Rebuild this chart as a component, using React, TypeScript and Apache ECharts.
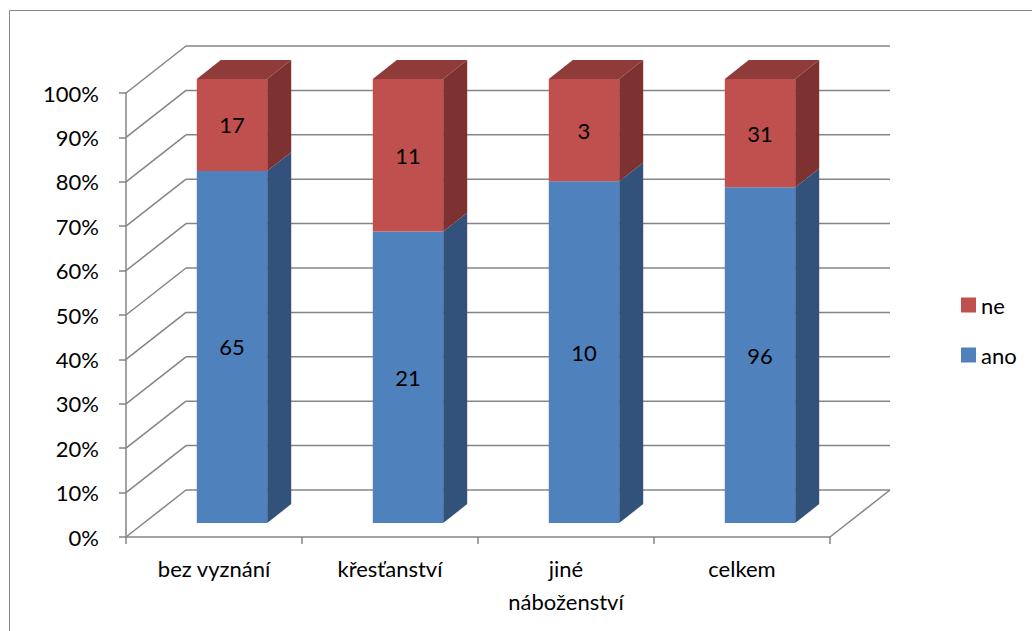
import React, { useEffect, useRef } from "react";
import * as echarts from "echarts";

const categories = ["bez vyznání", "křesťanství", "jiné náboženství", "celkem"];
const anoValues = [65, 21, 10, 96];
const neValues = [17, 11, 3, 31];
const yTicks = [0, 10, 20, 30, 40, 50, 60, 70, 80, 90, 100];

const DX = 60;
const DY = -47;
const D0 = 0.3;
const D1 = 0.7;
const GRID = "#858585";
const FONT = "Lato, 'Noto Sans', sans-serif";
const FS = 22;

export default function App() {
  const ref = useRef<HTMLDivElement>(null);
  useEffect(() => {
    document.body.style.margin = "0";
    if (!ref.current) return;
    const chart = echarts.init(ref.current, undefined, { renderer: "svg" });
    const totals = categories.map((_, i) => anoValues[i] + neValues[i]);
    const anoData = categories.map((_, i) => [i, 0, (anoValues[i] / totals[i]) * 100, anoValues[i]]);
    const neData = categories.map((_, i) => [i, (anoValues[i] / totals[i]) * 100, 100, neValues[i]]);

    const barRender = (front: string, side: string, topColor: string | null) => (params: any, api: any) => {
      const idx = api.value(0);
      const lo = api.value(1);
      const hi = api.value(2);
      const lab = api.value(3);
      const c = api.coord([idx, lo]);
      const h = api.coord([idx, hi]);
      const bw = api.size([1, 0])[0];
      const xl = c[0] - 0.2 * bw + D0 * DX;
      const xr = c[0] + 0.2 * bw + D0 * DX;
      const yb = c[1] + D0 * DY;
      const yt = h[1] + D0 * DY;
      const ddx = (D1 - D0) * DX;
      const ddy = (D1 - D0) * DY;
      const children: any[] = [
        {
          type: "polygon",
          shape: { points: [[xr, yb], [xr + ddx, yb + ddy], [xr + ddx, yt + ddy], [xr, yt]] },
          style: { fill: side },
        },
        {
          type: "polygon",
          shape: { points: [[xl, yb], [xr, yb], [xr, yt], [xl, yt]] },
          style: { fill: front },
        },
      ];
      if (topColor) {
        children.push({
          type: "polygon",
          shape: { points: [[xl, yt], [xr, yt], [xr + ddx, yt + ddy], [xl + ddx, yt + ddy]] },
          style: { fill: topColor },
        });
      }
      children.push({
        type: "text",
        style: {
          x: (xl + xr) / 2,
          y: (yb + yt) / 2,
          text: String(lab),
          align: "center",
          verticalAlign: "middle",
          fill: "#000",
          font: `${FS}px ${FONT}`,
        },
      });
      return { type: "group", children };
    };

    const wallRender = (params: any, api: any) => {
      const v = api.value(1);
      const y = api.coord([0, v])[1];
      const x0 = params.coordSys.x;
      const x1 = params.coordSys.x + params.coordSys.width;
      const st = { stroke: GRID, lineWidth: 1.5 };
      const children: any[] = [
        { type: "line", shape: { x1: x0, y1: y, x2: x0 + DX, y2: y + DY }, style: st },
        { type: "line", shape: { x1: x0 + DX, y1: y + DY, x2: x1 + DX, y2: y + DY }, style: st },
      ];
      if (v === 0) {
        children.push({ type: "line", shape: { x1: x1, y1: y, x2: x1 + DX, y2: y + DY }, style: st });
      }
      return { type: "group", children };
    };

    chart.setOption({
      animation: false,
      grid: { left: 126, top: 93, width: 704, height: 444 },
      graphic: [
        {
          type: "rect",
          shape: { x: 9.5, y: 10.5, width: 1040, height: 640 },
          style: { fill: "none", stroke: "#868686", lineWidth: 1 },
        },
      ],
      legend: {
        orient: "vertical",
        left: 956,
        top: 289,
        itemWidth: 15,
        itemHeight: 15,
        itemGap: 28,
        data: [
          { name: "ne", icon: "rect" },
          { name: "ano", icon: "rect" },
        ],
        textStyle: { fontSize: FS, fontFamily: FONT, color: "#000", padding: [0, 0, 0, 0] },
      },
      xAxis: {
        type: "category",
        data: categories,
        axisLine: { lineStyle: { color: GRID, width: 1.5 } },
        axisTick: { show: true, length: 7, interval: 0, lineStyle: { color: GRID, width: 1.5 } },
        axisLabel: {
          interval: 0,
          margin: 15,
          fontSize: FS,
          lineHeight: 33,
          fontFamily: FONT,
          color: "#000",
          formatter: (v: string) => (v.length > 12 ? v.replace(" ", "\n") : v),
        },
        splitLine: { show: false },
      },
      yAxis: {
        type: "value",
        min: 0,
        max: 100,
        interval: 10,
        axisLine: { show: true, lineStyle: { color: GRID, width: 1.5 } },
        axisTick: { show: true, length: 7, lineStyle: { color: GRID, width: 1.5 } },
        axisLabel: { margin: 27, fontSize: FS, fontFamily: FONT, color: "#000", formatter: "{value}%" },
        splitLine: { show: false },
      },
      series: [
        {
          type: "custom",
          name: "walls",
          silent: true,
          renderItem: wallRender,
          data: yTicks.map((v) => [0, v]),
          encode: { x: 0, y: 1 },
          z: 1,
        },
        {
          type: "custom",
          name: "ano",
          renderItem: barRender("#4F81BD", "#32527C", null),
          itemStyle: { color: "#4F81BD" },
          data: anoData,
          encode: { x: 0, y: [1, 2] },
          z: 3,
        },
        {
          type: "custom",
          name: "ne",
          renderItem: barRender("#C0504D", "#7D3231", "#8E3B39"),
          itemStyle: { color: "#C0504D" },
          data: neData,
          encode: { x: 0, y: [1, 2] },
          z: 4,
        },
      ],
    });
    return () => chart.dispose();
  }, []);
  return <div ref={ref} style={{ width: 1032, height: 631 }} />;
}
